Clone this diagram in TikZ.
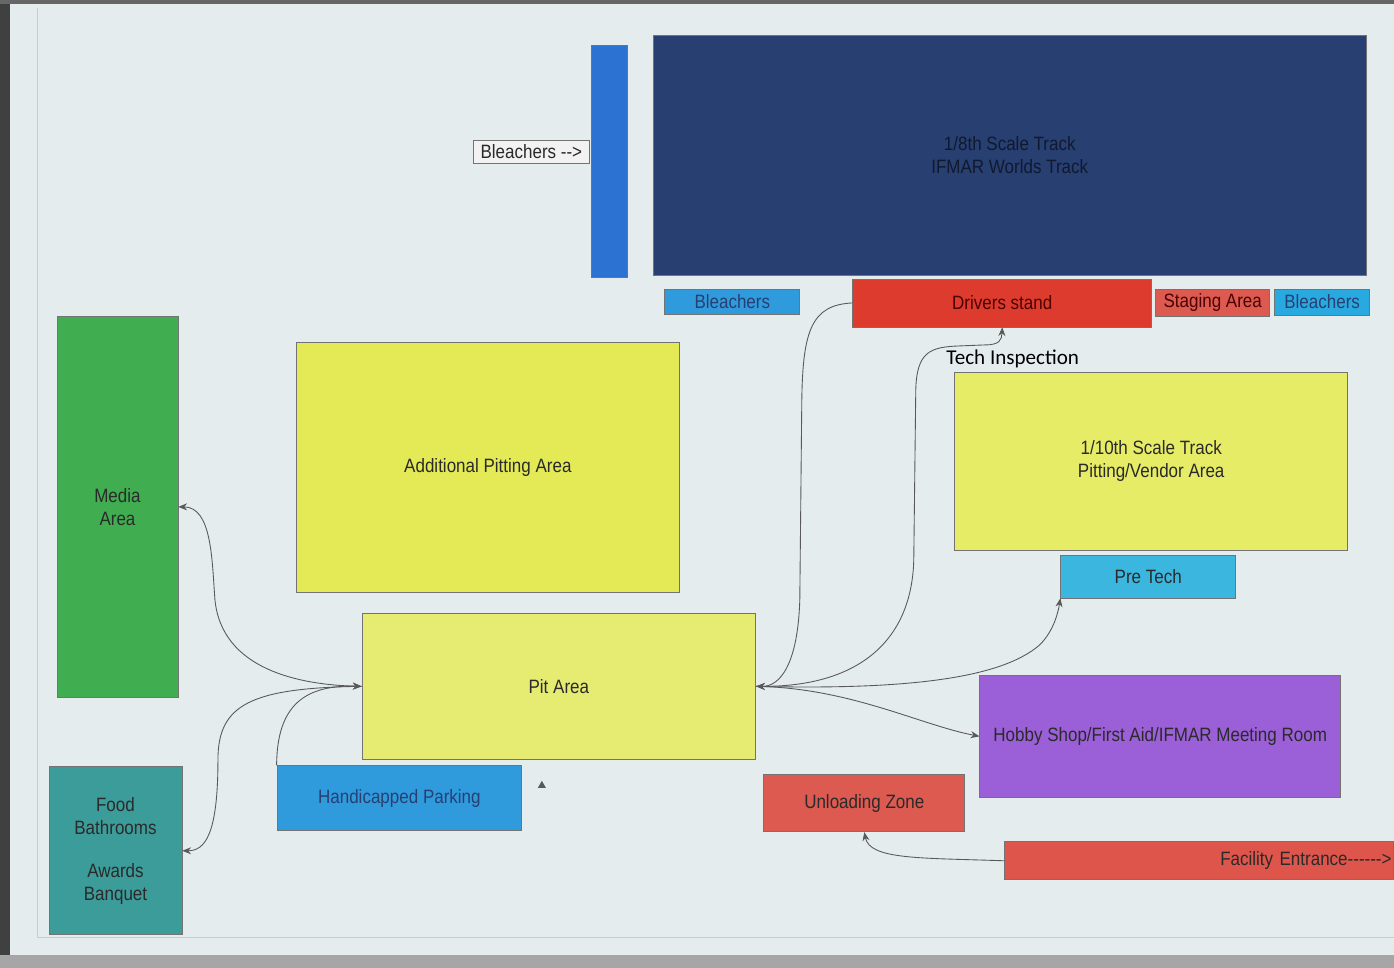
\documentclass[tikz,border=0pt]{standalone}
\usepackage{fontspec}
\setmainfont[FakeStretch=0.88]{Liberation Sans}
\newfontfamily\techfont{Carlito}
\usetikzlibrary{arrows.meta}

\definecolor{screen}{HTML}{E4ECEE}
\definecolor{navy}{HTML}{283F72}
\definecolor{barblue}{HTML}{2C72D2}
\definecolor{skyblue}{HTML}{2F9BDC}
\definecolor{cyanbox}{HTML}{3BB6DE}
\definecolor{redbox}{HTML}{DD3B2D}
\definecolor{salmon}{HTML}{DC5A50}
\definecolor{yellowbox}{HTML}{E4EA56}
\definecolor{paleyellow}{HTML}{E6EC72}
\definecolor{purplebox}{HTML}{9B5FD8}
\definecolor{greenbox}{HTML}{40AE50}
\definecolor{tealbox}{HTML}{3C9C9A}
\definecolor{ink}{HTML}{2A2A2A}

\begin{document}
\begin{tikzpicture}[x=0.02cm,y=-0.02cm,
  zone/.style={draw=black!55, rectangle, inner sep=0pt, text=ink, align=center,
    font=\fontsize{11}{13}\selectfont},
  link/.style={draw=black!65, line width=0.5pt, -{Stealth[length=5pt,width=4pt]}}]
% Screen background
\fill[screen] (0,0) rectangle (1394,968);
\fill[black!75] (0,0) rectangle (10,968);
\fill[black!60] (0,0) rectangle (1394,4);
\fill[black!35] (0,955) rectangle (1394,968);
\draw[black!20] (37,8) -- (37,938) -- (1394,938);
\useasboundingbox (0,0) rectangle (1394,968);

% Top row: track and bleachers
\node[zone, fill=navy, text=navy!40!black, minimum width=14.28cm, minimum height=4.8cm] (track) at (1010,155) {1/8th Scale Track\\IFMAR Worlds Track};
\node[zone, fill=barblue, minimum width=0.74cm, minimum height=4.64cm] (bar) at (609.5,161) {};
\node[zone, fill=black!5, minimum width=2.34cm, minimum height=0.46cm] (barlbl) at (531.5,151.5) {Bleachers -{}->};
\node[zone, fill=skyblue, text=navy, minimum width=2.7cm, minimum height=0.5cm] (bleachl) at (732.5,301.5) {Bleachers};
\node[zone, fill=redbox, text=red!30!black, minimum width=5.98cm, minimum height=0.96cm] (drivers) at (1002.5,303) {Drivers stand};
\node[zone, fill=salmon, text=red!30!black, minimum width=2.28cm, minimum height=0.54cm] (staging) at (1213,302.5) {Staging Area};
\node[zone, fill=skyblue!85!cyan, text=navy, minimum width=1.9cm, minimum height=0.52cm] (bleachr) at (1322.5,302) {Bleachers};

% Right side
\node[font=\techfont\fontsize{12}{14}\selectfont] (techlbl) at (1013,359) {Tech Inspection};
\node[zone, fill=yellowbox!90!white, minimum width=7.86cm, minimum height=3.56cm] (tenth) at (1151.5,461) {1/10th Scale Track\\Pitting/Vendor Area};
\node[zone, fill=cyanbox, minimum width=3.5cm, minimum height=0.86cm] (pretech) at (1148.5,576.5) {Pre Tech};
\node[zone, fill=purplebox, minimum width=7.22cm, minimum height=2.46cm] (hobby) at (1160.5,736.5) {Hobby Shop/First Aid/IFMAR Meeting Room};
\node[zone, fill=salmon, minimum width=4.02cm, minimum height=1.14cm] (unload) at (864.5,803.5) {Unloading Zone};
\node[zone, fill=salmon!95!red, minimum width=7.78cm, minimum height=0.76cm, text width=7.7cm, align=right] (entrance) at (1199.5,861) {Facility Entrance-{}-{}-{}-{}-{}->};

% Left side
\node[zone, fill=greenbox, minimum width=2.42cm, minimum height=7.64cm] (media) at (117.5,507) {Media\\Area};
\node[zone, fill=tealbox, minimum width=2.66cm, minimum height=3.36cm] (food) at (115.5,851) {Food\\Bathrooms\\[2ex]Awards\\Banquet};
\node[zone, fill=yellowbox, minimum width=7.68cm, minimum height=5.02cm] (extra) at (488,467.5) {Additional Pitting Area};
\node[zone, fill=paleyellow, minimum width=7.88cm, minimum height=2.94cm] (pit) at (559,686.5) {Pit Area};
\node[zone, fill=skyblue, text=navy, minimum width=4.9cm, minimum height=1.3cm] (parking) at (399.5,798.5) {Handicapped Parking};

% Connectors on the left
\draw[link, {Stealth[length=5pt,width=4pt]}-{Stealth[length=5pt,width=4pt]}] (media.east) .. controls (212,507) and (212,560) .. (215,600) .. controls (222,670) and (300,685) .. (pit.west);
\draw[link] (pit.west) .. controls (250,688) and (218,705) .. (218,760) .. controls (218,835) and (205,851) .. (food.east);
\draw[link] (parking.north west) .. controls (277,705) and (305,685) .. (pit.west);

% Connectors on the right
\draw[link] (drivers.west) .. controls (812,305) and (803,330) .. (802,400) -- (800,600) .. controls (798,665) and (780,687) .. (pit.east);
\draw[link, {Stealth[length=5pt,width=4pt]}-{Stealth[length=5pt,width=4pt]}] (pit.east) .. controls (860,687) and (912,640) .. (914,560) -- (916,390) .. controls (917,352) and (930,347) .. (960,346) -- (985,345) .. controls (1000,345) and (1002,340) .. (drivers.south);
\draw[link] (pit.east) .. controls (900,690) and (1000,680) .. (1040,645) .. controls (1053,632) and (1058,615) .. (pretech.south west);
\draw[link] (pit.east) .. controls (850,688) and (920,725) .. (hobby.west);
\draw[link] (entrance.west) .. controls (920,858) and (870,860) .. (unload.south);

% Stray arrow head
\fill[black!65] (538,788) -- (546,788) -- (542,781) -- cycle;
\end{tikzpicture}
\end{document}
